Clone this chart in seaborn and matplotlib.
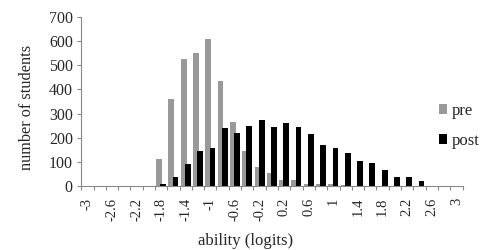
import numpy as np
import pandas as pd
import matplotlib
matplotlib.use("Agg")
import matplotlib.pyplot as plt
import seaborn as sns
from matplotlib.ticker import FixedLocator
from matplotlib.patches import Patch

ability = ["-3", "-2.8", "-2.6", "-2.4", "-2.2", "-2", "-1.8", "-1.6", "-1.4", "-1.2",
           "-1", "-0.8", "-0.6", "-0.4", "-0.2", "0", "0.2", "0.4", "0.6", "0.8",
           "1", "1.2", "1.4", "1.6", "1.8", "2", "2.2", "2.4", "2.6", "2.8", "3"]
pre = [0, 0, 0, 0, 0, 0, 110, 360, 527, 550,
       608, 435, 266, 145, 78, 54, 25, 25, 7, 7,
       6, 4, 0, 0, 0, 0, 0, 0, 0, 0, 0]
post = [0, 0, 0, 0, 0, 0, 7, 36, 89, 145,
        158, 238, 220, 249, 273, 244, 262, 244, 215, 169,
        158, 135, 101, 94, 65, 36, 36, 20, 0, 0, 0]
series = ["pre", "post"]
tick_labels = ["-3", "-2.6", "-2.2", "-1.8", "-1.4", "-1", "-0.6", "-0.2",
               "0.2", "0.6", "1", "1.4", "1.8", "2.2", "2.6", "3"]
colors = ["#999999", "#000000"]

df = pd.DataFrame({
    "ability": ability * 2,
    "count": pre + post,
    "test": ["pre"] * len(pre) + ["post"] * len(post),
})

sns.set_theme(style="white")
plt.rcParams["font.family"] = ["Liberation Serif", "DejaVu Serif"]

fig = plt.figure(figsize=(5, 2.5), dpi=100)
ax = fig.add_axes([0.1624, 0.2572, 0.7626, 0.6736])

sns.barplot(data=df, x="ability", y="count", hue="test", order=ability,
            hue_order=series, palette=colors, width=0.68, gap=-0.4,
            saturation=1, ax=ax, legend=False, linewidth=0)

ax.set_xlim(-0.5, len(ability) - 0.5)
ax.set_ylim(0, 700)
ax.set_yticks(np.arange(0, 701, 100))
ax.tick_params(axis="y", labelsize=11.5, direction="out", length=3,
               color="#888888", width=0.8, pad=3, left=True)

label_pos = [ability.index(t) for t in tick_labels]
ax.set_xticks(label_pos)
ax.set_xticklabels(tick_labels, rotation=90, fontsize=10.5)
ax.tick_params(axis="x", which="major", length=0, pad=8.5, bottom=True)
ax.xaxis.set_minor_locator(FixedLocator(np.arange(-0.5, len(ability), 1.0)))
ax.tick_params(axis="x", which="minor", length=3, color="#888888",
               width=0.8, direction="out", bottom=True)

for s in ["top", "right"]:
    ax.spines[s].set_visible(False)
for s in ["left", "bottom"]:
    ax.spines[s].set_color("#888888")
    ax.spines[s].set_linewidth(0.8)

ax.set_xlabel("ability (logits)", fontsize=12)
ax.set_ylabel("number of students", fontsize=11.7)
ax.xaxis.set_label_coords(0.432, -0.33)
ax.yaxis.set_label_coords(-0.142, 0.465)
ax.xaxis.label.set_va("center")
ax.yaxis.label.set_va("center")

handles = [Patch(facecolor=c, edgecolor="none") for c in colors]
fig.legend(handles, series, loc="upper left", bbox_to_anchor=(439 / 500, 1 - 103 / 250),
           frameon=False, fontsize=12, handlelength=0.5, handleheight=0.5,
           handletextpad=0.25, labelspacing=0.85, borderaxespad=0, borderpad=0)

fig.savefig("out.png", dpi=100)
